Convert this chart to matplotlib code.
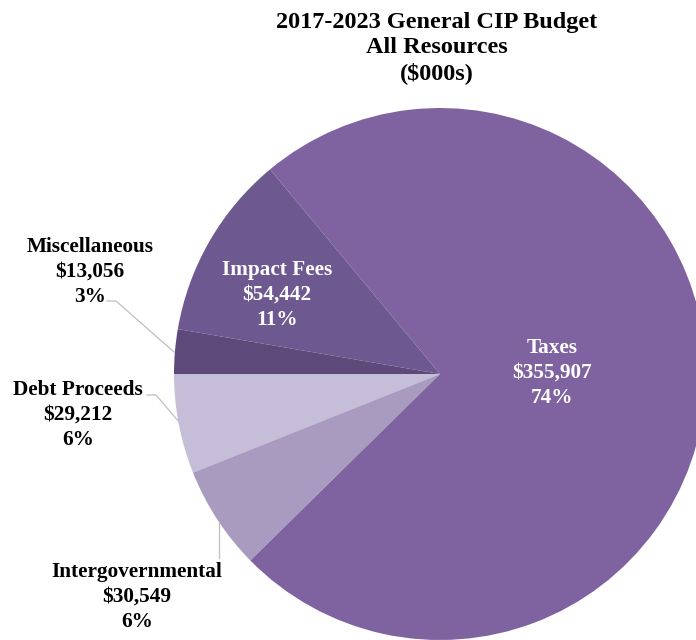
import matplotlib.pyplot as plt

# data ($000s), in drawing order starting at 9 o'clock, counter-clockwise
categories = ["Debt Proceeds", "Intergovernmental", "Taxes", "Impact Fees", "Miscellaneous"]
amounts = [29212, 30549, 355907, 54442, 13056]
pcts = ["6%", "6%", "74%", "11%", "3%"]
colors = ["#c6bed8", "#a99abf", "#7f63a0", "#6e5890", "#5d4a7b"]

plt.rcParams["font.family"] = ["Liberation Serif", "DejaVu Serif"]

W, H = 696, 640
fig = plt.figure(figsize=(6.96, 6.4), dpi=100)
ax = fig.add_axes([0, 0, 1, 1])

# pie placed in pixel coords (y measured from bottom)
cx, cy, r = 440, H - 374, 266
ax.pie(amounts, colors=colors, startangle=180, counterclock=True,
       center=(cx, cy), radius=r, frame=True,
       wedgeprops=dict(linewidth=0))
ax.set_xlim(0, W)
ax.set_ylim(0, H)
ax.set_aspect("equal")
ax.axis("off")

def lab(i):
    return f"{categories[i]}\n${amounts[i]:,}\n{pcts[i]}"

fs = 15.3
kw = dict(fontsize=fs, fontweight="bold", ha="center", va="center", linespacing=1.36)
ax.text(552, H - 373, lab(2), color="white", **kw)
ax.text(277, H - 295, lab(3), color="white", **kw)
ax.text(90, H - 272, lab(4), color="black", **kw)
ax.text(78, H - 415, lab(0), color="black", **kw)
ax.text(137, H - 597, lab(1), color="black", **kw)

# leader lines
lc = "#bfbfbf"
ax.plot([107, 116, 174], [H - 301, H - 301, H - 352], color=lc, lw=0.9)
ax.plot([147, 156, 180], [H - 395, H - 395, H - 423], color=lc, lw=0.9)
ax.plot([219, 219], [H - 522, H - 558], color=lc, lw=0.9)

ax.text(437, H - 48, "2017-2023 General CIP Budget\nAll Resources\n($000s)",
        fontsize=17.5, fontweight="bold", ha="center", va="center", linespacing=1.27)

fig.savefig("out.png", dpi=100)
